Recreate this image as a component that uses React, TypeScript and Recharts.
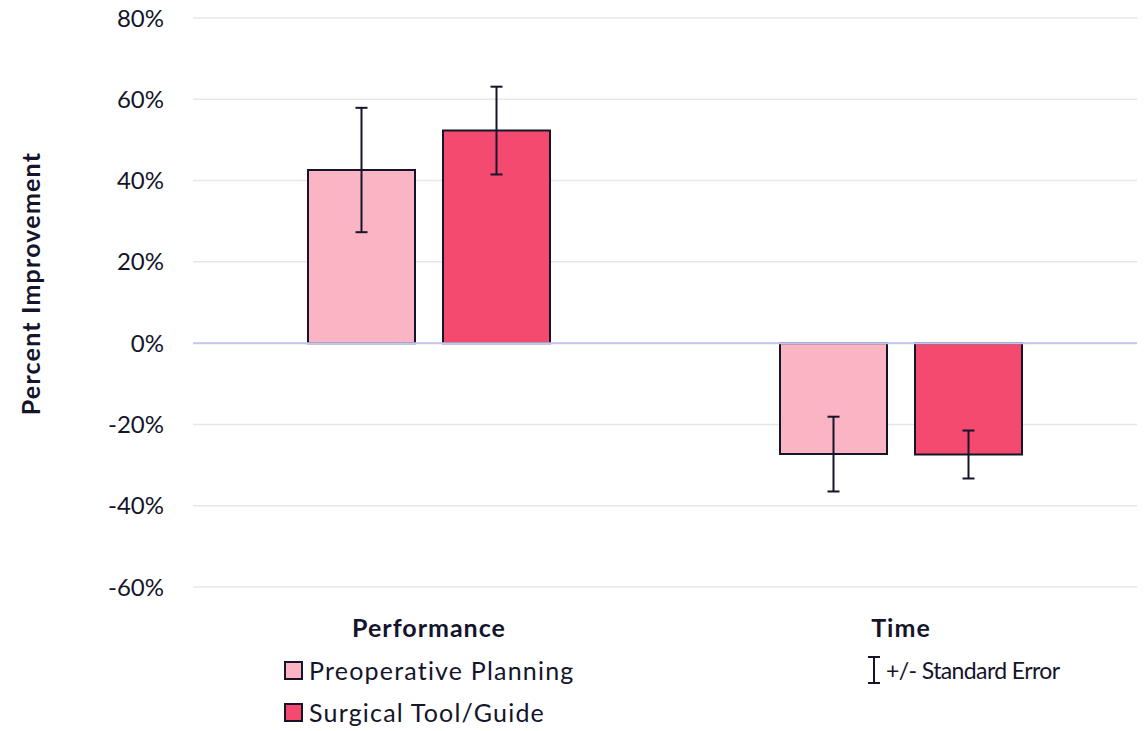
import React from 'react';
import {
  BarChart,
  Bar,
  XAxis,
  YAxis,
  CartesianGrid,
  ReferenceLine,
  ErrorBar,
  Label,
} from 'recharts';

const CATEGORIES = ['Performance', 'Time'];
const PREOP_VALUES = [42.6, -27.3];
const PREOP_ERRORS = [15.3, 9.2];
const SURGICAL_VALUES = [52.3, -27.4];
const SURGICAL_ERRORS = [10.8, 5.9];
const Y_TICKS = [-60, -40, -20, 0, 20, 40, 60, 80];

const TEXT = '#14142b';
const FONT = 'Lato, "Open Sans", sans-serif';
const PREOP_COLOR = '#fbb4c4';
const SURGICAL_COLOR = '#f54a70';

const data = CATEGORIES.map((name, i) => ({
  name,
  preop: PREOP_VALUES[i],
  preopErr: PREOP_ERRORS[i],
  surgical: SURGICAL_VALUES[i],
  surgicalErr: SURGICAL_ERRORS[i],
}));

function LegendSwatch({ color }: { color: string }) {
  return (
    <span
      style={{
        display: 'inline-block',
        width: 15,
        height: 15,
        background: color,
        border: `2px solid ${TEXT}`,
        marginRight: 6,
      }}
    />
  );
}

export default function App() {
  return (
    <div style={{ position: 'absolute', left: 0, top: 0, width: 1147, height: 731, background: '#fff', fontFamily: FONT }}>
      <BarChart
        width={1147}
        height={731}
        data={data}
        margin={{ top: 18, right: 10, left: 0, bottom: 94 }}
        barSize={107}
        barGap={28}
      >
        <CartesianGrid vertical={false} stroke="#e6e6ec" strokeWidth={1.5} />
        <XAxis
          dataKey="name"
          height={50}
          axisLine={false}
          tickLine={false}
          tickMargin={26}
          tick={{ fontSize: 25, fontWeight: 700, fill: TEXT, fontFamily: FONT, letterSpacing: 1 }}
        />
        <YAxis
          width={193}
          domain={[-60, 80]}
          ticks={Y_TICKS}
          axisLine={false}
          tickLine={false}
          tickMargin={23}
          tickFormatter={(v) => `${v}%`}
          tick={{ fontSize: 24, fill: TEXT, fontFamily: FONT }}
        >
          <Label
            value="Percent Improvement"
            angle={-90}
            position="center"
            dx={-65}
            dy={-19}
            style={{ fontSize: 25, fontWeight: 700, fill: TEXT, fontFamily: FONT, letterSpacing: 1.2 }}
          />
        </YAxis>
        <Bar dataKey="preop" fill={PREOP_COLOR} stroke={TEXT} strokeWidth={2} isAnimationActive={false}>
          <ErrorBar dataKey="preopErr" width={6} strokeWidth={2} stroke={TEXT} direction="y" />
        </Bar>
        <Bar dataKey="surgical" fill={SURGICAL_COLOR} stroke={TEXT} strokeWidth={2} isAnimationActive={false}>
          <ErrorBar dataKey="surgicalErr" width={6} strokeWidth={2} stroke={TEXT} direction="y" />
        </Bar>
        <ReferenceLine y={0} stroke="#c6c6ec" strokeWidth={2} />
      </BarChart>

      {/* legend */}
      <div style={{ position: 'absolute', left: 284, top: 654, color: TEXT, fontSize: 25, lineHeight: '32px' }}>
        <div style={{ display: 'flex', alignItems: 'center', height: 32 }}>
          <LegendSwatch color={PREOP_COLOR} />
          <span style={{ letterSpacing: 1.2 }}>Preoperative Planning</span>
        </div>
        <div style={{ display: 'flex', alignItems: 'center', height: 32, marginTop: 10 }}>
          <LegendSwatch color={SURGICAL_COLOR} />
          <span style={{ letterSpacing: 1.2 }}>Surgical Tool/Guide</span>
        </div>
      </div>
      <div style={{ position: 'absolute', left: 866, top: 654, color: TEXT, fontSize: 23, lineHeight: '32px', display: 'flex', alignItems: 'center' }}>
        <svg width={16} height={30} style={{ marginRight: 4 }}>
          <line x1={2} y1={2} x2={14} y2={2} stroke={TEXT} strokeWidth={2} />
          <line x1={8} y1={2} x2={8} y2={28} stroke={TEXT} strokeWidth={2} />
          <line x1={2} y1={28} x2={14} y2={28} stroke={TEXT} strokeWidth={2} />
        </svg>
        <span style={{ letterSpacing: -0.6 }}>+/- Standard Error</span>
      </div>
    </div>
  );
}
